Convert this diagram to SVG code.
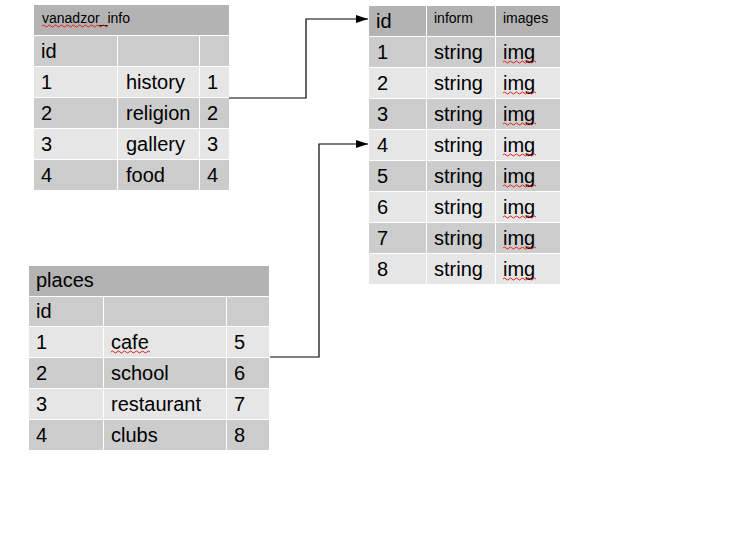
<svg xmlns="http://www.w3.org/2000/svg" width="733" height="554" viewBox="0 0 733 554">
<defs>
<style>
.h{fill:#b3b3b3}
.d{fill:#cccccc}
.l{fill:#e6e6e6}
.t{font-family:"Liberation Sans",Arial,sans-serif;font-size:20px;fill:#000}
.s{font-family:"Liberation Sans",Arial,sans-serif;font-size:14px;fill:#000}
.w{fill:none;stroke:#e0201c;stroke-width:1}
.c{fill:none;stroke:#000;stroke-width:1.2}
</style>
<marker id="arr" markerWidth="12" markerHeight="8" refX="12" refY="4" orient="auto" markerUnits="userSpaceOnUse">
<path d="M0,0 L12,4 L0,8 z" fill="#000"/>
</marker>
<path id="sq" d="M0,0 q1.5,-2 3,0 t3,0 t3,0 t3,0 t3,0 t3,0 t3,0 t3,0 t3,0 t3,0 t3,0" class="w"/>
</defs>
<rect width="733" height="554" fill="#fff"/>

<g id="vanadzor_info">
<rect class="h" x="34" y="5" width="195" height="30"/>
<rect class="d" x="34" y="36" width="83" height="30"/><rect class="d" x="118" y="36" width="81" height="30"/><rect class="d" x="200" y="36" width="29" height="30"/>
<rect class="l" x="34" y="67" width="83" height="30"/><rect class="l" x="118" y="67" width="81" height="30"/><rect class="l" x="200" y="67" width="29" height="30"/>
<rect class="d" x="34" y="98" width="83" height="30"/><rect class="d" x="118" y="98" width="81" height="30"/><rect class="d" x="200" y="98" width="29" height="30"/>
<rect class="l" x="34" y="129" width="83" height="30"/><rect class="l" x="118" y="129" width="81" height="30"/><rect class="l" x="200" y="129" width="29" height="30"/>
<rect class="d" x="34" y="160" width="83" height="30"/><rect class="d" x="118" y="160" width="81" height="30"/><rect class="d" x="200" y="160" width="29" height="30"/>
<text class="s" x="42" y="23">vanadzor_info</text>
<path class="w" d="M42,26 q1.5,-2 3,0 t3,0 t3,0 t3,0 t3,0 t3,0 t3,0 t3,0 t3,0 t3,0 t3,0 t3,0 t3,0 t3,0 t3,0 t3,0 t3,0 t3,0 t3,0 t3,0 t3,0 t3,0"/>
<text class="t" x="41" y="58">id</text>
<text class="t" x="41" y="89">1</text><text class="t" x="126" y="89">history</text><text class="t" x="207" y="89">1</text>
<text class="t" x="41" y="120">2</text><text class="t" x="126" y="120">religion</text><text class="t" x="207" y="120">2</text>
<text class="t" x="41" y="151">3</text><text class="t" x="126" y="151">gallery</text><text class="t" x="207" y="151">3</text>
<text class="t" x="41" y="182">4</text><text class="t" x="126" y="182">food</text><text class="t" x="207" y="182">4</text>
</g>

<g id="info_table">
<rect class="h" x="369" y="6" width="57" height="30"/><rect class="h" x="427" y="6" width="68" height="30"/><rect class="h" x="496" y="6" width="64" height="30"/>
<rect class="d" x="369" y="37" width="57" height="30"/><rect class="d" x="427" y="37" width="68" height="30"/><rect class="d" x="496" y="37" width="64" height="30"/>
<rect class="l" x="369" y="68" width="57" height="30"/><rect class="l" x="427" y="68" width="68" height="30"/><rect class="l" x="496" y="68" width="64" height="30"/>
<rect class="d" x="369" y="99" width="57" height="30"/><rect class="d" x="427" y="99" width="68" height="30"/><rect class="d" x="496" y="99" width="64" height="30"/>
<rect class="l" x="369" y="130" width="57" height="30"/><rect class="l" x="427" y="130" width="68" height="30"/><rect class="l" x="496" y="130" width="64" height="30"/>
<rect class="d" x="369" y="161" width="57" height="30"/><rect class="d" x="427" y="161" width="68" height="30"/><rect class="d" x="496" y="161" width="64" height="30"/>
<rect class="l" x="369" y="192" width="57" height="30"/><rect class="l" x="427" y="192" width="68" height="30"/><rect class="l" x="496" y="192" width="64" height="30"/>
<rect class="d" x="369" y="223" width="57" height="30"/><rect class="d" x="427" y="223" width="68" height="30"/><rect class="d" x="496" y="223" width="64" height="30"/>
<rect class="l" x="369" y="254" width="57" height="30"/><rect class="l" x="427" y="254" width="68" height="30"/><rect class="l" x="496" y="254" width="64" height="30"/>
<text class="t" x="376" y="28">id</text><text class="s" x="434" y="23">inform</text><text class="s" x="503" y="23">images</text>
<text class="t" x="377" y="59">1</text><text class="t" x="434" y="59">string</text><text class="t" x="503" y="59">img</text>
<text class="t" x="377" y="90">2</text><text class="t" x="434" y="90">string</text><text class="t" x="503" y="90">img</text>
<text class="t" x="377" y="121">3</text><text class="t" x="434" y="121">string</text><text class="t" x="503" y="121">img</text>
<text class="t" x="377" y="152">4</text><text class="t" x="434" y="152">string</text><text class="t" x="503" y="152">img</text>
<text class="t" x="377" y="183">5</text><text class="t" x="434" y="183">string</text><text class="t" x="503" y="183">img</text>
<text class="t" x="377" y="214">6</text><text class="t" x="434" y="214">string</text><text class="t" x="503" y="214">img</text>
<text class="t" x="377" y="245">7</text><text class="t" x="434" y="245">string</text><text class="t" x="503" y="245">img</text>
<text class="t" x="377" y="276">8</text><text class="t" x="434" y="276">string</text><text class="t" x="503" y="276">img</text>
<path class="w" d="M503,62 q1.5,-2 3,0 t3,0 t3,0 t3,0 t3,0 t3,0 t3,0 t3,0 t3,0 t3,0 t3,0"/>
<path class="w" d="M503,93 q1.5,-2 3,0 t3,0 t3,0 t3,0 t3,0 t3,0 t3,0 t3,0 t3,0 t3,0 t3,0"/>
<path class="w" d="M503,124 q1.5,-2 3,0 t3,0 t3,0 t3,0 t3,0 t3,0 t3,0 t3,0 t3,0 t3,0 t3,0"/>
<path class="w" d="M503,155 q1.5,-2 3,0 t3,0 t3,0 t3,0 t3,0 t3,0 t3,0 t3,0 t3,0 t3,0 t3,0"/>
<path class="w" d="M503,186 q1.5,-2 3,0 t3,0 t3,0 t3,0 t3,0 t3,0 t3,0 t3,0 t3,0 t3,0 t3,0"/>
<path class="w" d="M503,217 q1.5,-2 3,0 t3,0 t3,0 t3,0 t3,0 t3,0 t3,0 t3,0 t3,0 t3,0 t3,0"/>
<path class="w" d="M503,248 q1.5,-2 3,0 t3,0 t3,0 t3,0 t3,0 t3,0 t3,0 t3,0 t3,0 t3,0 t3,0"/>
<path class="w" d="M503,279 q1.5,-2 3,0 t3,0 t3,0 t3,0 t3,0 t3,0 t3,0 t3,0 t3,0 t3,0 t3,0"/>
</g>

<g id="places">
<rect class="h" x="29" y="266" width="240" height="30"/>
<rect class="d" x="29" y="297" width="74" height="29"/><rect class="d" x="104" y="297" width="122" height="29"/><rect class="d" x="227" y="297" width="42" height="29"/>
<rect class="l" x="29" y="327" width="74" height="30"/><rect class="l" x="104" y="327" width="122" height="30"/><rect class="l" x="227" y="327" width="42" height="30"/>
<rect class="d" x="29" y="358" width="74" height="30"/><rect class="d" x="104" y="358" width="122" height="30"/><rect class="d" x="227" y="358" width="42" height="30"/>
<rect class="l" x="29" y="389" width="74" height="30"/><rect class="l" x="104" y="389" width="122" height="30"/><rect class="l" x="227" y="389" width="42" height="30"/>
<rect class="d" x="29" y="420" width="74" height="30"/><rect class="d" x="104" y="420" width="122" height="30"/><rect class="d" x="227" y="420" width="42" height="30"/>
<text class="t" x="36" y="287">places</text>
<text class="t" x="36" y="318">id</text>
<text class="t" x="36" y="349">1</text><text class="t" x="111" y="349">cafe</text><text class="t" x="234" y="349">5</text>
<text class="t" x="36" y="380">2</text><text class="t" x="111" y="380">school</text><text class="t" x="234" y="380">6</text>
<text class="t" x="36" y="411">3</text><text class="t" x="111" y="411">restaurant</text><text class="t" x="234" y="411">7</text>
<text class="t" x="36" y="442">4</text><text class="t" x="111" y="442">clubs</text><text class="t" x="234" y="442">8</text>
<path class="w" d="M111,352 q1.5,-2 3,0 t3,0 t3,0 t3,0 t3,0 t3,0 t3,0 t3,0 t3,0 t3,0 t3,0 t3,0 t3,0"/>
</g>

<g id="connectors">
<path class="c" d="M229,98 H306 V19 H368" marker-end="url(#arr)"/>
<path class="c" d="M270,357 H319 V144 H368" marker-end="url(#arr)"/>
</g>
</svg>
